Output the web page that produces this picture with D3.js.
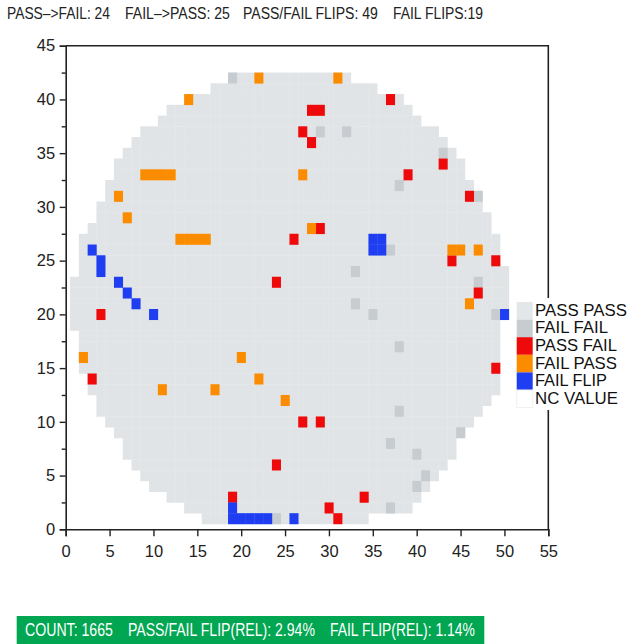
<!DOCTYPE html>
<html>
<head>
<meta charset="utf-8">
<script src="https://cdn.jsdelivr.net/npm/d3@7"></script>
<style>
  body { margin: 0; background: #fff; }
  svg text { font-family: "Liberation Sans", Arial, sans-serif; }
</style>
</head>
<body>
<div id="chart"></div>
<script>
(function () {

  // wafer outline: for every row, first and last die column
  var rowY     = [42, 41, 40, 39, 38, 37, 36, 35, 34, 33, 32, 31, 30, 29, 28, 27, 26, 25, 24, 23, 22,
                  21, 20, 19, 18, 17, 16, 15, 14, 13, 12, 11, 10, 9, 8, 7, 6, 5, 4, 3, 2, 1]
  var rowStart = [19, 17, 14, 12, 11, 9, 8, 7, 6, 6, 5, 5, 4, 4, 3, 2, 2, 2, 2, 1, 1,
                  1, 1, 1, 2, 2, 2, 2, 3, 3, 4, 4, 5, 6, 7, 7, 8, 9, 10, 12, 14, 16]
  var rowEnd   = [32, 35, 38, 39, 40, 42, 43, 44, 45, 45, 46, 47, 47, 48, 48, 49, 49, 49, 50, 50, 50,
                  50, 50, 49, 49, 49, 49, 49, 49, 49, 48, 47, 46, 45, 44, 44, 43, 42, 41, 40, 39, 34]

  // dies by category [column, row]
  var failFailDies = [[19, 42], [29, 37], [32, 37], [43, 35], [38, 32], [47, 31], [37, 26], [33, 24],
                      [47, 23], [33, 21], [35, 20], [49, 20], [38, 17], [38, 11], [45, 9], [37, 8],
                      [40, 7], [41, 5], [40, 4], [37, 2], [24, 1]]
  var passFailDies = [[37, 40], [28, 39], [29, 39], [27, 37], [28, 36], [43, 34], [39, 33], [46, 31],
                      [29, 28], [26, 27], [44, 25], [49, 25], [24, 23], [47, 22], [4, 20], [49, 15],
                      [3, 14], [27, 10], [29, 10], [24, 6], [34, 3], [19, 3], [30, 2], [31, 1]]
  var failPassDies = [[22, 42], [31, 42], [14, 40], [9, 33], [10, 33], [11, 33], [12, 33], [27, 33],
                      [6, 31], [7, 29], [28, 28], [13, 27], [14, 27], [15, 27], [16, 27], [44, 26],
                      [45, 26], [47, 26], [46, 21], [2, 16], [20, 16], [22, 14], [11, 13], [17, 13],
                      [25, 12]]
  var failFlipDies = [[3, 26], [4, 25], [4, 24], [6, 23], [7, 22], [8, 21], [10, 20], [35, 27], [36, 27],
                      [35, 26], [36, 26], [50, 20], [19, 2], [19, 1], [20, 1], [21, 1], [22, 1], [23, 1],
                      [26, 1]]

  var categories = ["PASS PASS", "FAIL FAIL", "PASS FAIL", "FAIL PASS", "FAIL FLIP", "NC VALUE"]
  var xTicks = [0, 5, 10, 15, 20, 25, 30, 35, 40, 45, 50, 55]
  var yTicks = [0, 5, 10, 15, 20, 25, 30, 35, 40, 45]
  var yMinorTicks = [2.5, 7.5, 12.5, 17.5, 22.5, 27.5, 32.5, 37.5, 42.5]

  var headerParts = ["PASS\u2013>FAIL: 24", "FAIL\u2013>PASS: 25", "PASS/FAIL FLIPS: 49", "FAIL FLIPS:19"]
  var footerParts = ["COUNT: 1665", "PASS/FAIL FLIP(REL): 2.94%", "FAIL FLIP(REL): 1.14%"]

  var colors = ["#e1e4e6", "#c7ccd0", "#ee0a0a", "#fb8c00", "#1f3ef2", "#ffffff"]

  var svg = d3.select("#chart").append("svg")
    .attr("width", 629)
    .attr("height", 644)

  var xScale = d3.scaleLinear().domain([0, 55]).range([65.7, 548.3])
  var yScale = d3.scaleLinear().domain([0, 45]).range([529.3, 45.7])

  function dieRect(sel, fill) {
    sel.attr("x", function (d) { return xScale(d[0] - 0.5) })
      .attr("y", function (d) { return yScale(d[1] + 0.5) })
      .attr("width", function (d) { return xScale(d[0] + 0.5) - xScale(d[0] - 0.5) + 0.3 })
      .attr("height", function (d) { return yScale(d[1] - 0.5) - yScale(d[1] + 0.5) + 0.3 })
      .attr("fill", fill)
  }

  // all dies on the wafer (pass pass background)
  var allDies = []
  rowY.forEach(function (r, i) {
    d3.range(rowStart[i], rowEnd[i] + 1).forEach(function (c) { allDies.push([c, r]) })
  })

  var dieLayer = svg.append("g")
  dieLayer.selectAll(".die-pp").data(allDies).enter().append("rect")
    .attr("class", "die-pp")
    .call(dieRect, colors[0])

  var groups = [failFailDies, passFailDies, failPassDies, failFlipDies]
  groups.forEach(function (dies, i) {
    dieLayer.selectAll(".die-" + i).data(dies).enter().append("rect")
      .attr("class", "die-" + i)
      .call(dieRect, colors[i + 1])
  })

  // frame
  svg.append("path")
    .attr("d", "M" + xScale(0) + "," + yScale(45) + "H" + xScale(55) + "V" + yScale(0))
    .attr("fill", "none")
    .attr("stroke", "#222")
    .attr("stroke-width", 1.6)

  // axes
  var xAxis = d3.axisBottom(xScale).tickValues(xTicks).tickSize(7).tickPadding(8.5)
  svg.append("g")
    .attr("class", "axis x-axis")
    .attr("transform", "translate(0," + yScale(0) + ")")
    .call(xAxis)

  var yAxis = d3.axisLeft(yScale).tickValues(yTicks).tickSize(6).tickPadding(4.5)
  svg.append("g")
    .attr("class", "axis y-axis")
    .attr("transform", "translate(" + xScale(0) + ",0)")
    .call(yAxis)

  svg.append("g")
    .attr("class", "axis y-minor")
    .attr("transform", "translate(" + xScale(0) + ",0)")
    .call(d3.axisLeft(yScale).tickValues(yMinorTicks).tickSize(4).tickFormat(""))
    .select(".domain").remove()

  svg.selectAll(".axis .domain").attr("stroke", "#222").attr("stroke-width", 1.6)
  svg.selectAll(".axis .tick line").attr("stroke", "#222").attr("stroke-width", 1.4)
  svg.selectAll(".axis .tick text")
    .attr("fill", "#222")
    .style("font-size", "16.5px")

  // squeeze a text horizontally to a given width (condensed face in the original)
  function fitText(sel, xs, ys, ws) {
    sel.each(function (d, i) {
      var w = this.getComputedTextLength()
      var y = Array.isArray(ys) ? ys[i] : ys
      d3.select(this).attr("transform",
        "translate(" + xs[i] + "," + y + ") scale(" + (ws[i] / w) + ",1)")
    })
  }

  // legend
  var legend = svg.append("g").attr("transform", "translate(513,298)")
  legend.append("rect")
    .attr("width", 116).attr("height", 112)
    .attr("fill", "#fff")

  legend.selectAll(".legend-swatch").data(categories).enter().append("rect")
    .attr("class", "legend-swatch")
    .attr("x", 3.7)
    .attr("y", function (d, i) { return 4 + i * 17.6 })
    .attr("width", 16).attr("height", 17.6)
    .attr("fill", function (d, i) { return i == 0 ? "#e4e7e9" : colors[i] })
    .attr("stroke", function (d, i) { return i == 5 ? "#f0f0f0" : null })

  legend.selectAll(".legend-label").data(categories).enter().append("text")
    .attr("class", "legend-label")
    .attr("fill", "#111")
    .style("font-size", "16.5px")
    .text(function (d) { return d })
    .call(fitText, [22, 22, 22, 22, 22, 22], [17.8, 35.4, 53, 70.6, 88.2, 105.8], [92, 73, 82, 82, 72, 83])

  // header
  svg.selectAll(".header").data(headerParts).enter().append("text")
    .attr("class", "header")
    .attr("fill", "#222")
    .style("font-size", "16.5px")
    .text(function (d) { return d })
    .call(fitText, [7, 125, 243, 393], 19.3, [103, 105, 135, 90])

  // footer banner
  svg.append("rect")
    .attr("x", 16.7).attr("y", 616)
    .attr("width", 467.6).attr("height", 28)
    .attr("fill", "#00a651")

  svg.selectAll(".footer").data(footerParts).enter().append("text")
    .attr("class", "footer")
    .attr("fill", "#fff")
    .style("font-size", "17.5px")
    .text(function (d) { return d })
    .call(fitText, [25, 128, 330], 636, [88, 187, 145])

})()
</script>
</body>
</html>
